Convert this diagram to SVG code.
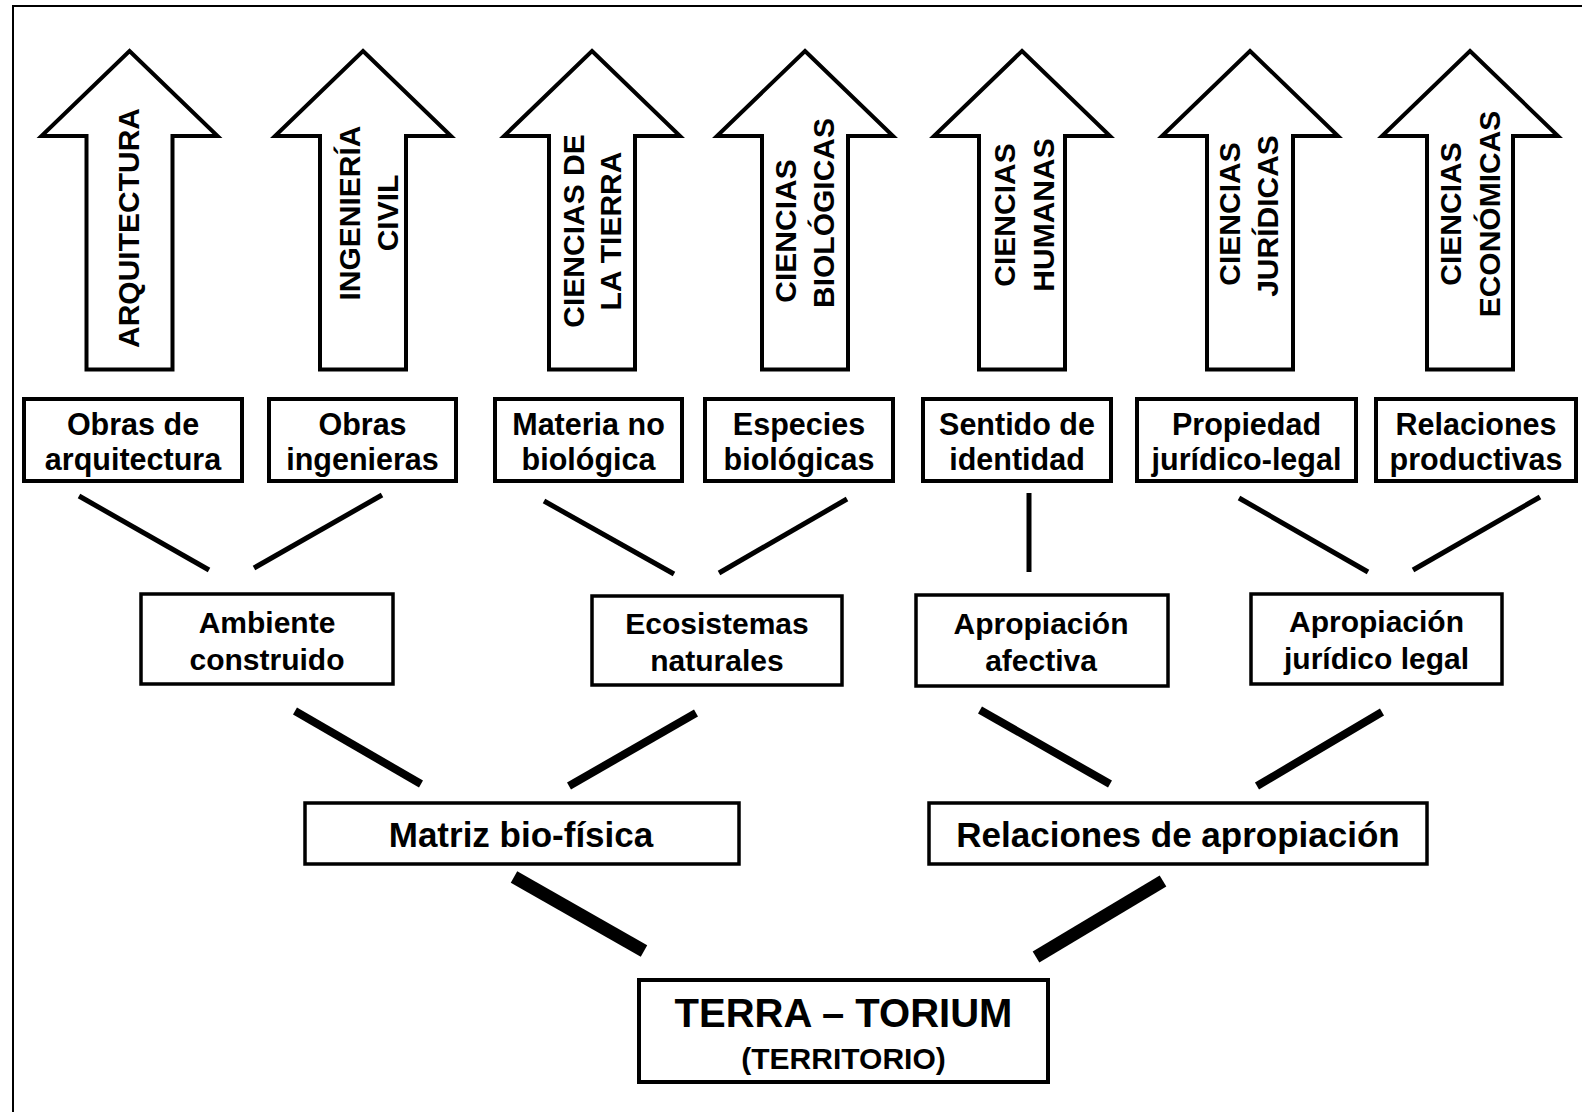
<svg xmlns="http://www.w3.org/2000/svg" xmlns:xlink="http://www.w3.org/1999/xlink" width="1582" height="1112" viewBox="0 0 1582 1112">
  <style>
    .frame { fill: none; stroke: #000; stroke-width: 2; }
    .arrow { fill: #fff; stroke: #000; stroke-width: 4; stroke-linejoin: miter; stroke-miterlimit: 10; }
    .box { fill: #fff; stroke: #000; stroke-width: 4; }
    .box-thin { fill: #fff; stroke: #000; stroke-width: 3.5; }
    text { font-family: "Liberation Sans", Arial, sans-serif; font-weight: bold; fill: #000; text-anchor: middle; }
    .vt { font-size: 30px; }
    .t1 { font-size: 30.5px; }
    .t2 { font-size: 30px; }
    .t3 { font-size: 35px; }
    .tmain { font-size: 40px; }
    .tsub { font-size: 30px; }
    .c-thin { stroke: #000; stroke-width: 5; }
    .c-mid { stroke: #000; stroke-width: 8; }
    .c-thick { stroke: #000; stroke-width: 13; }
  </style>
  <defs>
    <!-- block arrow pointing up, centred on x = 0 -->
    <path id="up-arrow" d="M0,51 L88,136 L43,136 L43,369.5 L-43,369.5 L-43,136 L-88,136 Z"/>
  </defs>

  <rect x="0" y="0" width="1582" height="1112" fill="#fff"/>
  <path class="frame" d="M13,1112 V6 H1582"/>

  <!-- discipline arrows -->
  <g id="arrow-arquitectura">
    <use xlink:href="#up-arrow" href="#up-arrow" x="129.5" class="arrow"/>
    <text class="vt" transform="translate(139,228) rotate(-90)">ARQUITECTURA</text>
  </g>
  <g id="arrow-ingenieria">
    <use xlink:href="#up-arrow" href="#up-arrow" x="363" class="arrow"/>
    <text class="vt" transform="translate(360,213) rotate(-90)">INGENIERÍA</text>
    <text class="vt" transform="translate(398,213) rotate(-90)">CIVIL</text>
  </g>
  <g id="arrow-tierra">
    <use xlink:href="#up-arrow" href="#up-arrow" x="592" class="arrow"/>
    <text class="vt" transform="translate(584,231) rotate(-90)">CIENCIAS DE</text>
    <text class="vt" transform="translate(621,231) rotate(-90)">LA TIERRA</text>
  </g>
  <g id="arrow-biologicas">
    <use xlink:href="#up-arrow" href="#up-arrow" x="805" class="arrow"/>
    <text class="vt" transform="translate(796,231) rotate(-90)">CIENCIAS</text>
    <text class="vt" transform="translate(834,213) rotate(-90)">BIOLÓGICAS</text>
  </g>
  <g id="arrow-humanas">
    <use xlink:href="#up-arrow" href="#up-arrow" x="1022" class="arrow"/>
    <text class="vt" transform="translate(1015,215) rotate(-90)">CIENCIAS</text>
    <text class="vt" transform="translate(1054,215) rotate(-90)">HUMANAS</text>
  </g>
  <g id="arrow-juridicas">
    <use xlink:href="#up-arrow" href="#up-arrow" x="1250" class="arrow"/>
    <text class="vt" transform="translate(1240,214) rotate(-90)">CIENCIAS</text>
    <text class="vt" transform="translate(1278,216) rotate(-90)">JURÍDICAS</text>
  </g>
  <g id="arrow-economicas">
    <use xlink:href="#up-arrow" href="#up-arrow" x="1470" class="arrow"/>
    <text class="vt" transform="translate(1461,214) rotate(-90)">CIENCIAS</text>
    <text class="vt" transform="translate(1500,214) rotate(-90)">ECONÓMICAS</text>
  </g>

  <!-- first level boxes -->
  <g id="obras-arquitectura">
    <rect class="box" x="24" y="399" width="218" height="82"/>
    <text class="t1" x="133" y="435">Obras de</text>
    <text class="t1" x="133" y="470">arquitectura</text>
  </g>
  <g id="obras-ingenieras">
    <rect class="box" x="269" y="399" width="187" height="82"/>
    <text class="t1" x="362.5" y="435">Obras</text>
    <text class="t1" x="362.5" y="470">ingenieras</text>
  </g>
  <g id="materia-no-biologica">
    <rect class="box" x="495" y="399" width="187" height="82"/>
    <text class="t1" x="588.5" y="435">Materia no</text>
    <text class="t1" x="588.5" y="470">biológica</text>
  </g>
  <g id="especies-biologicas">
    <rect class="box" x="705" y="399" width="188" height="82"/>
    <text class="t1" x="799" y="435">Especies</text>
    <text class="t1" x="799" y="470">biológicas</text>
  </g>
  <g id="sentido-identidad">
    <rect class="box" x="923" y="399" width="188" height="82"/>
    <text class="t1" x="1017" y="435">Sentido de</text>
    <text class="t1" x="1017" y="470">identidad</text>
  </g>
  <g id="propiedad-juridico-legal">
    <rect class="box" x="1137" y="399" width="219" height="82"/>
    <text class="t1" x="1246.5" y="435">Propiedad</text>
    <text class="t1" x="1246.5" y="470">jurídico-legal</text>
  </g>
  <g id="relaciones-productivas">
    <rect class="box" x="1376" y="399" width="200" height="82"/>
    <text class="t1" x="1476" y="435">Relaciones</text>
    <text class="t1" x="1476" y="470">productivas</text>
  </g>

  <!-- second level boxes -->
  <g id="ambiente-construido">
    <rect class="box-thin" x="141" y="594" width="252" height="90"/>
    <text class="t2" x="267" y="633">Ambiente</text>
    <text class="t2" x="267" y="670">construido</text>
  </g>
  <g id="ecosistemas-naturales">
    <rect class="box-thin" x="592" y="596" width="250" height="89"/>
    <text class="t2" x="717" y="634">Ecosistemas</text>
    <text class="t2" x="717" y="671">naturales</text>
  </g>
  <g id="apropiacion-afectiva">
    <rect class="box-thin" x="916" y="595" width="252" height="91"/>
    <text class="t2" x="1041" y="634">Apropiación</text>
    <text class="t2" x="1041" y="671">afectiva</text>
  </g>
  <g id="apropiacion-juridico-legal">
    <rect class="box-thin" x="1251" y="594" width="251" height="90"/>
    <text class="t2" x="1376.5" y="632">Apropiación</text>
    <text class="t2" x="1376.5" y="669">jurídico legal</text>
  </g>

  <!-- third level boxes -->
  <g id="matriz-bio-fisica">
    <rect class="box-thin" x="305" y="803" width="434" height="61"/>
    <text class="t3" x="521" y="847">Matriz bio-física</text>
  </g>
  <g id="relaciones-apropiacion">
    <rect class="box-thin" x="929" y="803" width="498" height="61"/>
    <text class="t3" x="1178" y="847">Relaciones de apropiación</text>
  </g>

  <!-- root -->
  <g id="terra-torium">
    <rect class="box" x="639" y="980" width="409" height="102"/>
    <text class="tmain" x="843.5" y="1027">TERRA – TORIUM</text>
    <text class="tsub" x="843.5" y="1069">(TERRITORIO)</text>
  </g>

  <!-- connectors -->
  <g id="connectors">
    <line class="c-thin" x1="79" y1="496" x2="209" y2="570"/>
    <line class="c-thin" x1="382" y1="495" x2="254" y2="568"/>
    <line class="c-thin" x1="544" y1="501" x2="674" y2="574"/>
    <line class="c-thin" x1="847" y1="499" x2="719" y2="573"/>
    <line class="c-thin" x1="1029" y1="493" x2="1029" y2="572"/>
    <line class="c-thin" x1="1239" y1="498" x2="1368" y2="572"/>
    <line class="c-thin" x1="1540" y1="497" x2="1413" y2="570"/>

    <line class="c-mid" x1="295" y1="711" x2="421" y2="784"/>
    <line class="c-mid" x1="696" y1="713" x2="569" y2="786"/>
    <line class="c-mid" x1="980" y1="710" x2="1110" y2="784"/>
    <line class="c-mid" x1="1382" y1="712" x2="1257" y2="786"/>

    <line class="c-thick" x1="514" y1="877" x2="644" y2="951"/>
    <line class="c-thick" x1="1163" y1="881" x2="1036" y2="957"/>
  </g>
</svg>
